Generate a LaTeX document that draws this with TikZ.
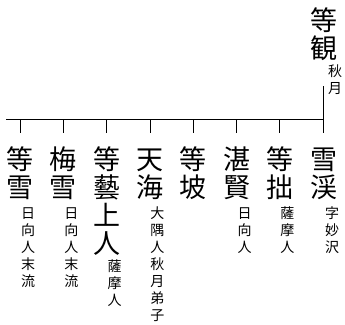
\documentclass[tikz,border=0pt]{standalone}
\usepackage{fontspec}
\setmainfont{Noto Sans CJK JP}
\newfontfamily\cjk{Noto Sans CJK JP}
\tikzset{
  bigname/.style={anchor=base, align=center, inner sep=0pt, font=\cjk\fontsize{27}{28}\selectfont},
  note/.style={anchor=base, align=center, inner sep=0pt, font=\cjk\fontsize{14}{17}\selectfont},
  tree/.style={line width=0.8pt, black}
}
\begin{document}
\begin{tikzpicture}[x=1pt,y=-1pt]
\useasboundingbox (0,0) rectangle (345,324);
% parent (anchor = baseline of the last line)
\node[bigname] (root) at (323.5,58.4) {等\\観};
\node[note] (rootn) at (335,93.6) {秋\\月};
\coordinate (p) at (323.5,86);
\coordinate (barL) at (6,119);
\coordinate (barR) at (323.5,119);
% children
\node[bigname] (c0) at (20,197.4) {等\\雪};
\node[note] (c0n) at (28,286.4) {日\\向\\人\\末\\流};
\node[bigname] (c1) at (63.3,197.4) {梅\\雪};
\node[note] (c1n) at (71.3,286.4) {日\\向\\人\\末\\流};
\node[bigname] (c2) at (106.6,253.4) {等\\藝\\上\\人};
\node[note] (c2n) at (114.6,305.4) {薩\\摩\\人};
\node[bigname] (c3) at (149.9,197.4) {天\\海};
\node[note] (c3n) at (157.4,320.4) {大\\隅\\人\\秋\\月\\弟\\子};
\node[bigname] (c4) at (193.2,197.4) {等\\坡};
\node[bigname] (c5) at (236.5,197.4) {湛\\賢};
\node[note] (c5n) at (244.5,252.4) {日\\向\\人};
\node[bigname] (c6) at (279.8,197.4) {等\\拙};
\node[note] (c6n) at (287.3,252.4) {薩\\摩\\人};
\node[bigname] (c7) at (323.5,197.4) {雪\\渓};
\node[note] (c7n) at (332,252.4) {字\\妙\\沢};
% connectors
\draw[tree] (barL) -- (barR);
\draw[tree] (p) -- (barR);
\foreach \i/\x in {0/20,1/63.3,2/106.6,3/149.9,4/193.2,5/236.5,6/279.8,7/323.5}{
  \coordinate (t\i) at (\x,119);
  \coordinate (b\i) at (\x,133);
  \draw[tree] (t\i) -- (b\i);
}
\end{tikzpicture}
\end{document}
